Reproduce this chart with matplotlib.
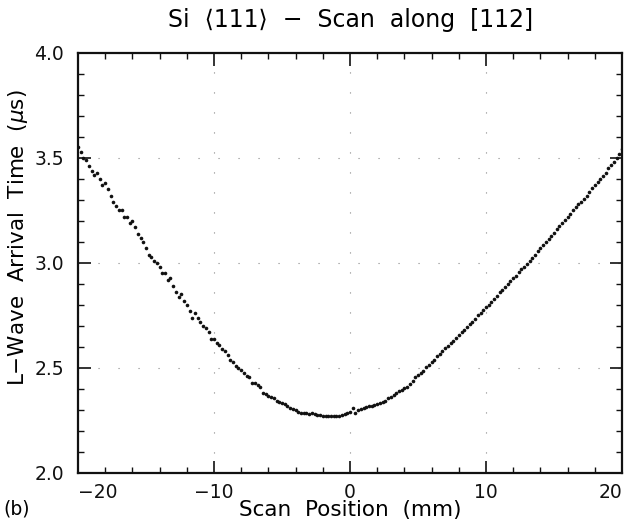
import matplotlib
matplotlib.use("Agg")
import matplotlib.pyplot as plt  # noqa: E402
from matplotlib.ticker import MultipleLocator  # noqa: E402

# scan position (mm), one sample every 0.2 mm
scan_mm = [
    -20.0, -19.8, -19.6, -19.4, -19.2, -19.0, -18.8, -18.6, -18.4, -18.2,
    -18.0, -17.8, -17.6, -17.4, -17.2, -17.0, -16.8, -16.6, -16.4, -16.2,
    -16.0, -15.8, -15.6, -15.4, -15.2, -15.0, -14.8, -14.6, -14.4, -14.2,
    -14.0, -13.8, -13.6, -13.4, -13.2, -13.0, -12.8, -12.6, -12.4, -12.2,
    -12.0, -11.8, -11.6, -11.4, -11.2, -11.0, -10.8, -10.6, -10.4, -10.2,
    -10.0, -9.8, -9.6, -9.4, -9.2, -9.0, -8.8, -8.6, -8.4, -8.2,
    -8.0, -7.8, -7.6, -7.4, -7.2, -7.0, -6.8, -6.6, -6.4, -6.2,
    -6.0, -5.8, -5.6, -5.4, -5.2, -5.0, -4.8, -4.6, -4.4, -4.2,
    -4.0, -3.8, -3.6, -3.4, -3.2, -3.0, -2.8, -2.6, -2.4, -2.2,
    -2.0, -1.8, -1.6, -1.4, -1.2, -1.0, -0.8, -0.6, -0.4, -0.2,
    0.0, 0.2, 0.4, 0.6, 0.8, 1.0, 1.2, 1.4, 1.6, 1.8,
    2.0, 2.2, 2.4, 2.6, 2.8, 3.0, 3.2, 3.4, 3.6, 3.8,
    4.0, 4.2, 4.4, 4.6, 4.8, 5.0, 5.2, 5.4, 5.6, 5.8,
    6.0, 6.2, 6.4, 6.6, 6.8, 7.0, 7.2, 7.4, 7.6, 7.8,
    8.0, 8.2, 8.4, 8.6, 8.8, 9.0, 9.2, 9.4, 9.6, 9.8,
    10.0, 10.2, 10.4, 10.6, 10.8, 11.0, 11.2, 11.4, 11.6, 11.8,
    12.0, 12.2, 12.4, 12.6, 12.8, 13.0, 13.2, 13.4, 13.6, 13.8,
    14.0, 14.2, 14.4, 14.6, 14.8, 15.0, 15.2, 15.4, 15.6, 15.8,
    16.0, 16.2, 16.4, 16.6, 16.8, 17.0, 17.2, 17.4, 17.6, 17.8,
    18.0, 18.2, 18.4, 18.6, 18.8, 19.0, 19.2, 19.4, 19.6, 19.8,
    20.0,
]

# L-wave arrival time (us)
arrival_us = [
    3.55, 3.53, 3.50, 3.49, 3.46, 3.44, 3.42, 3.43, 3.40, 3.37,
    3.38, 3.35, 3.32, 3.29, 3.27, 3.25, 3.25, 3.22, 3.22, 3.19,
    3.20, 3.17, 3.14, 3.12, 3.10, 3.07, 3.04, 3.03, 3.01, 3.00,
    2.98, 2.95, 2.95, 2.92, 2.93, 2.89, 2.86, 2.84, 2.85, 2.82,
    2.80, 2.77, 2.74, 2.76, 2.74, 2.72, 2.70, 2.69, 2.67, 2.64,
    2.64, 2.62, 2.61, 2.59, 2.58, 2.56, 2.54, 2.53, 2.51, 2.50,
    2.49, 2.475, 2.46, 2.455, 2.43, 2.43, 2.42, 2.41, 2.38, 2.375,
    2.365, 2.36, 2.355, 2.345, 2.34, 2.335, 2.33, 2.32, 2.31, 2.305,
    2.30, 2.29, 2.285, 2.285, 2.285, 2.283, 2.285, 2.28, 2.278, 2.275,
    2.27, 2.272, 2.27, 2.27, 2.27, 2.27, 2.272, 2.275, 2.28, 2.285,
    2.29, 2.31, 2.285, 2.30, 2.305, 2.31, 2.315, 2.318, 2.32, 2.325,
    2.33, 2.335, 2.34, 2.345, 2.355, 2.36, 2.37, 2.38, 2.39, 2.395,
    2.405, 2.41, 2.425, 2.44, 2.455, 2.465, 2.475, 2.485, 2.505, 2.515,
    2.53, 2.54, 2.555, 2.565, 2.58, 2.595, 2.605, 2.62, 2.63, 2.645,
    2.655, 2.67, 2.68, 2.695, 2.71, 2.72, 2.735, 2.75, 2.76, 2.775,
    2.79, 2.80, 2.815, 2.83, 2.845, 2.86, 2.87, 2.885, 2.90, 2.915,
    2.93, 2.94, 2.955, 2.97, 2.98, 2.995, 3.01, 3.025, 3.04, 3.055,
    3.07, 3.085, 3.10, 3.115, 3.13, 3.145, 3.16, 3.175, 3.19, 3.205,
    3.22, 3.235, 3.25, 3.265, 3.28, 3.29, 3.305, 3.32, 3.34, 3.355,
    3.37, 3.385, 3.40, 3.415, 3.43, 3.45, 3.465, 3.48, 3.50, 3.52,
    3.545,
]

x_ticks = [-20, -10, 0, 10, 20]
x_tick_labels = ["\u221220", "\u221210", "0", "10", "20"]
y_ticks = [2.0, 2.5, 3.0, 3.5, 4.0]
y_tick_labels = ["2.0", "2.5", "3.0", "3.5", "4.0"]

plt.rcParams["font.family"] = ["DejaVu Sans"]

fig = plt.figure(figsize=(6.27, 5.31), dpi=100)
ax = fig.add_axes([78 / 627, 1 - 473 / 531, 544 / 627, 420 / 531])

ax.plot(scan_mm, arrival_us, linestyle="none", marker="o", markersize=2.6,
        markerfacecolor="#111111", markeredgecolor="#111111", markeredgewidth=0)

ax.set_xlim(-20, 20)
ax.set_ylim(2.0, 4.0)
ax.set_xticks(x_ticks)
ax.set_xticklabels(x_tick_labels)
ax.set_yticks(y_ticks)
ax.set_yticklabels(y_tick_labels)
ax.xaxis.set_minor_locator(MultipleLocator(2))
ax.yaxis.set_minor_locator(MultipleLocator(0.1))

ax.tick_params(which="both", direction="in", top=True, right=True,
               colors="#111111", labelsize=13.5)
ax.tick_params(which="major", length=9, width=1.2)
ax.tick_params(which="minor", length=4, width=1.0)
ax.tick_params(axis="x", which="major", pad=7)
ax.tick_params(axis="y", which="major", pad=10)

for spine in ax.spines.values():
    spine.set_linewidth(1.6)
    spine.set_color("#111111")

ax.grid(True, which="major", color="#888888", linewidth=0.8,
        linestyle=(0, (1, 17)))

# edge labels stay inside the frame, as in the original
xt = ax.xaxis.get_major_ticks()
xt[0].label1.set_horizontalalignment("left")
xt[-1].label1.set_horizontalalignment("right")

ax.set_xlabel("Scan  Position  (mm)", fontsize=15.5)
ax.xaxis.label.set_verticalalignment("center")
ax.xaxis.set_label_coords(0.5, (473 - 510) / 420)

ax.set_ylabel("L\u2212Wave  Arrival  Time  ($\\mu$s)", fontsize=15.5)
ax.yaxis.label.set_verticalalignment("center")
ax.yaxis.set_label_coords((18 - 78) / 544, (473 - 238) / 420)

fig.text(351 / 627, 1 - 20 / 531, "Si  \u27e8111\u27e9  \u2212  Scan  along  [112]",
         ha="center", va="center", fontsize=17)
fig.text(3 / 627, 1 - 509 / 531, "(b)", ha="left", va="center", fontsize=13.5)

fig.savefig("out.png", dpi=100)
plt.close(fig)
